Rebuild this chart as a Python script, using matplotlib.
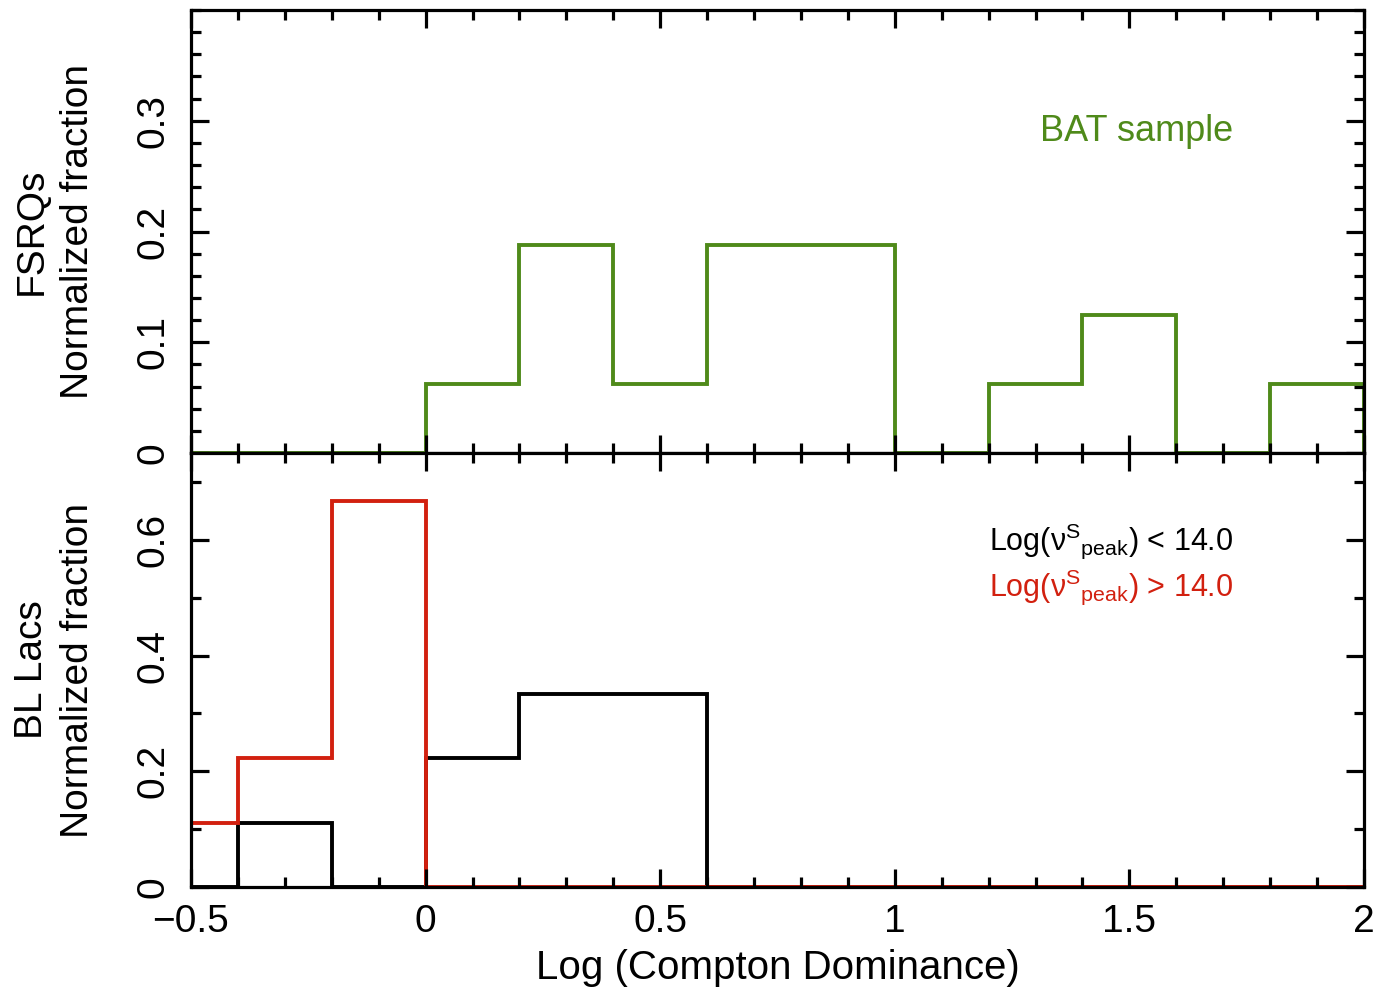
import matplotlib
matplotlib.use("Agg")
import matplotlib.pyplot as plt
from matplotlib.ticker import MultipleLocator

plt.rcParams["font.family"] = ["Liberation Sans", "DejaVu Sans"]
plt.rcParams["mathtext.fontset"] = "custom"
plt.rcParams["mathtext.rm"] = "Liberation Sans"
plt.rcParams["mathtext.it"] = "Liberation Sans:italic"
plt.rcParams["mathtext.sf"] = "Liberation Sans"

# bin edges, width 0.2 (first bin clipped by the axis)
EDGES = [-0.6, -0.4, -0.2, 0.0, 0.2, 0.4, 0.6, 0.8, 1.0, 1.2, 1.4, 1.6, 1.8, 2.0]

# FSRQs, BAT sample
fsrq = [0, 0, 0, 1/16, 3/16, 1/16, 3/16, 3/16, 0, 1/16, 2/16, 0, 1/16]

# BL Lacs split on synchrotron peak
bll_low = [0, 1/9, 0, 2/9, 3/9, 3/9, 0, 0, 0, 0, 0, 0, 0]
bll_high = [1/9, 2/9, 6/9, 0, 0, 0, 0, 0, 0, 0, 0, 0, 0]

GREEN = "#4f8a1a"
RED = "#d2200f"
LW = 2.8
FS = 28

fig = plt.figure(figsize=(13.79, 9.90), dpi=100)
ax1 = fig.add_axes([0.1385, 0.5424, 0.8506, 0.4475])
ax2 = fig.add_axes([0.1385, 0.104, 0.8506, 0.4384], sharex=ax1)

ax1.stairs(fsrq, EDGES, baseline=0, color=GREEN, lw=LW)
ax2.stairs(bll_low, EDGES, baseline=0, color="black", lw=LW)
ax2.stairs(bll_high, EDGES, baseline=0, color=RED, lw=LW)

ax1.set_xlim(-0.5, 2.0)
ax1.set_ylim(0, 0.4)
ax2.set_ylim(0, 0.75)

ax1.yaxis.set_major_locator(MultipleLocator(0.1))
ax1.yaxis.set_minor_locator(MultipleLocator(0.02))
ax2.yaxis.set_major_locator(MultipleLocator(0.2))
ax2.yaxis.set_minor_locator(MultipleLocator(0.1))
ax2.xaxis.set_major_locator(MultipleLocator(0.5))
ax2.xaxis.set_minor_locator(MultipleLocator(0.1))

ax1.set_yticks([0, 0.1, 0.2, 0.3])
ax1.set_yticklabels(["0", "0.1", "0.2", "0.3"])
ax2.set_yticks([0, 0.2, 0.4, 0.6])
ax2.set_yticklabels(["0", "0.2", "0.4", "0.6"])
ax2.set_xticks([-0.5, 0, 0.5, 1, 1.5, 2])
ax2.set_xticklabels(["\u22120.5", "0", "0.5", "1", "1.5", "2"])

for ax in (ax1, ax2):
    for s in ax.spines.values():
        s.set_linewidth(2.3)
    ax.tick_params(which="both", direction="in", top=True, right=True,
                   width=2.3, labelsize=FS)
    ax.tick_params(which="major", length=13)
    ax.tick_params(which="minor", length=7)
    ax.tick_params(axis="y", labelrotation=90, pad=14)
    ax.tick_params(axis="x", pad=12)
    for lab in ax.get_yticklabels():
        lab.set_verticalalignment("center")

ax1.tick_params(axis="x", labelbottom=False)

ax1.set_ylabel("FSRQs\nNormalized fraction", fontsize=FS, linespacing=1.35)
ax2.set_ylabel("BL Lacs\nNormalized fraction", fontsize=FS, linespacing=1.35)
ax1.yaxis.set_label_coords(-0.081, 0.5)
ax2.yaxis.set_label_coords(-0.081, 0.5)
ax2.set_xlabel("Log (Compton Dominance)", fontsize=29, labelpad=7)

ax1.text(1.515, 0.29, "BAT sample", color=GREEN, fontsize=26,
         ha="center", va="center")
ax2.text(1.2, 0.598, "Log(\u03bd$^{\\rm S}{}_{\\rm peak}$) < 14.0", color="black",
         fontsize=22, ha="left", va="center")
ax2.text(1.2, 0.518, "Log(\u03bd$^{\\rm S}{}_{\\rm peak}$) > 14.0", color=RED,
         fontsize=22, ha="left", va="center")

fig.savefig("out.png", dpi=100)
